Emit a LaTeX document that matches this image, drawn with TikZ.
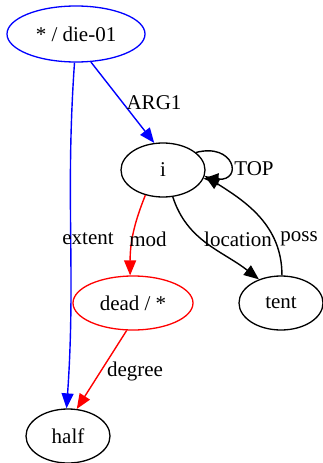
\documentclass[tikz,border=0pt]{standalone}
\usepackage{fontspec}
\setmainfont{Liberation Serif}
\usetikzlibrary{shapes.geometric,arrows.meta}
\tikzset{
  graphnode/.style={ellipse, draw, line width=1.3pt, inner sep=0pt,
    minimum width=84pt, minimum height=54pt, font=\fontsize{21}{24}\selectfont},
  edge/.style={line width=1.4pt, -{Triangle[length=15pt,width=12pt]}},
  elabel/.style={font=\fontsize{21}{24}\selectfont, inner sep=0pt},
}
\begin{document}
\begin{tikzpicture}[x=1pt,y=-1pt]
\useasboundingbox (0,0) rectangle (323,463);

% nodes
\node[graphnode, draw=blue, minimum width=138pt, minimum height=56pt] (die) at (76,34) {* / die-01};
\node[graphnode] (i) at (163,170) {i};
\node[graphnode, draw=red, minimum width=120pt] (dead) at (133,303) {dead / *};
\node[graphnode] (tent) at (281,303) {tent};
\node[graphnode] (half) at (68,436) {half};

% edges
\draw[edge, blue] (die.-93) to[out=-94, in=86] (half.93);
\draw[edge, blue] (die.-62) -- (i.108);
\draw[edge, red] (i.-125) to[out=-112, in=90] (dead.96);
\draw[edge] (i.-70) to[out=-72, in=142] (tent.133);
\draw[edge] (tent.88) to[out=90, in=-32] (i.-8);
\draw[edge] (i.28) .. controls +(38,-10) and +(40,2) .. (i.-12);
\draw[edge, red] (dead.-103) -- (half.72);

% edge labels
\node[elabel] (lARG) at (154,103) {ARG1};
\node[elabel] (lext) at (88,239) {extent};
\node[elabel] (lmod) at (148,239) {mod};
\node[elabel] (lloc) at (238,239) {location};
\node[elabel] (lposs) at (299,239) {poss};
\node[elabel] (lTOP) at (254,169) {TOP};
\node[elabel] (ldeg) at (135,371) {degree};
\end{tikzpicture}
\end{document}
